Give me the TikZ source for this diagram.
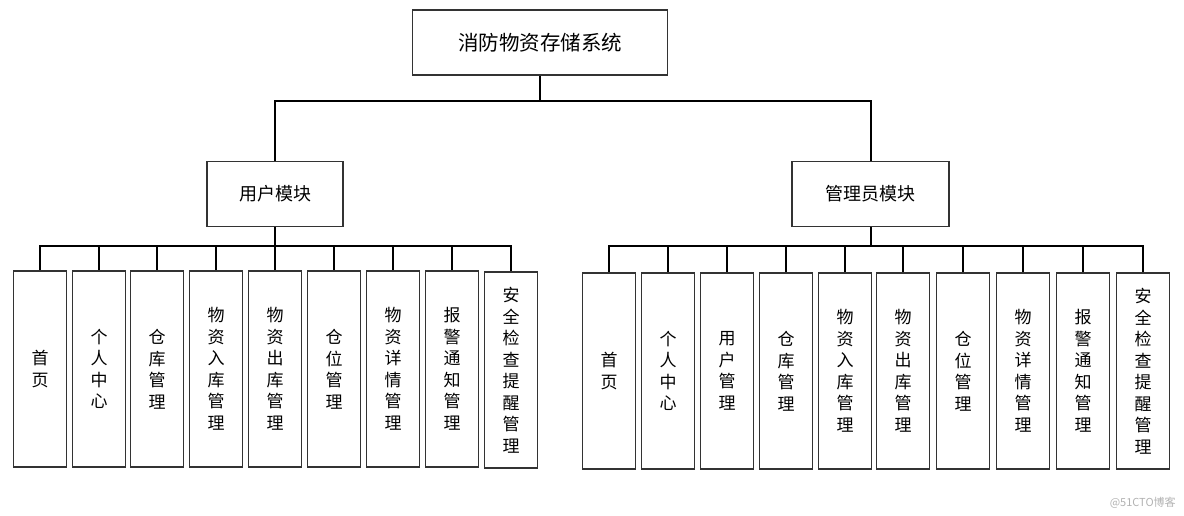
\documentclass[tikz,border=0pt]{standalone}
\usepackage{fontspec}
\usepackage{tikz}
\newfontfamily\cjk{Noto Sans CJK SC}

\begin{document}
\begin{tikzpicture}[x=1pt, y=-1pt, line width=2pt,
    box/.style = {draw=black!80, line width=1.6pt, fill=white, inner sep=0pt},
    top/.style = {box, minimum width=255pt, minimum height=65pt, font=\cjk\fontsize{20.5pt}{24pt}\selectfont},
    module/.style = {box, minimum height=65pt, font=\cjk\fontsize{18pt}{21pt}\selectfont},
    leaf/.style = {box, minimum width=53pt, minimum height=196pt, align=center, font=\cjk\fontsize{17pt}{21.5pt}\selectfont}]
      \useasboundingbox (0,0) rectangle (1184,516);
      \node[top] (sys) at (540,42.5) {消防物资存储系统};
      \node[module, minimum width=136pt] (user) at (275,194) {用户模块};
      \node[module, minimum width=157pt] (admin) at (870.5,194) {管理员模块};
      % user module
      \node[leaf] (u1) at (40,369) {首\\页};
      \node[leaf] (u2) at (99,369) {个\\人\\中\\心};
      \node[leaf] (u3) at (157,369) {仓\\库\\管\\理};
      \node[leaf] (u4) at (216,369) {物\\资\\入\\库\\管\\理};
      \node[leaf] (u5) at (275,369) {物\\资\\出\\库\\管\\理};
      \node[leaf] (u6) at (334,369) {仓\\位\\管\\理};
      \node[leaf] (u7) at (393,369) {物\\资\\详\\情\\管\\理};
      \node[leaf] (u8) at (452,369) {报\\警\\通\\知\\管\\理};
      \node[leaf] (u9) at (511,370) {安\\全\\检\\查\\提\\醒\\管\\理};
      % admin module
      \node[leaf] (a1) at (609,371) {首\\页};
      \node[leaf] (a2) at (668,371) {个\\人\\中\\心};
      \node[leaf] (a3) at (727,371) {用\\户\\管\\理};
      \node[leaf] (a4) at (786,371) {仓\\库\\管\\理};
      \node[leaf] (a5) at (845,371) {物\\资\\入\\库\\管\\理};
      \node[leaf] (a6) at (903,371) {物\\资\\出\\库\\管\\理};
      \node[leaf] (a7) at (963,371) {仓\\位\\管\\理};
      \node[leaf] (a8) at (1023,371) {物\\资\\详\\情\\管\\理};
      \node[leaf] (a9) at (1083,371) {报\\警\\通\\知\\管\\理};
      \node[leaf] (a10) at (1143,371) {安\\全\\检\\查\\提\\醒\\管\\理};
      \node[text=black!30, font=\cjk\fontsize{11pt}{13pt}\selectfont, anchor=east] (mark) at (1180,503) {@51CTO博客};
      \draw (sys.south) -- +(0,25) -| (user.north);
      \draw (sys.south) -- +(0,25) -| (admin.north);
      \draw (user.south) -- +(0,19) -| (u1.north);
      \draw (user.south) -- +(0,19) -| (u2.north);
      \draw (user.south) -- +(0,19) -| (u3.north);
      \draw (user.south) -- +(0,19) -| (u4.north);
      \draw (user.south) -- (u5.north);
      \draw (user.south) -- +(0,19) -| (u6.north);
      \draw (user.south) -- +(0,19) -| (u7.north);
      \draw (user.south) -- +(0,19) -| (u8.north);
      \draw (user.south) -- +(0,19) -| (u9.north);
      \draw (admin.south) -- +(0,19) -| (a1.north);
      \draw (admin.south) -- +(0,19) -| (a2.north);
      \draw (admin.south) -- +(0,19) -| (a3.north);
      \draw (admin.south) -- +(0,19) -| (a4.north);
      \draw (admin.south) -- +(0,19) -| (a5.north);
      \draw (admin.south) -- +(0,19) -| (a6.north);
      \draw (admin.south) -- +(0,19) -| (a7.north);
      \draw (admin.south) -- +(0,19) -| (a8.north);
      \draw (admin.south) -- +(0,19) -| (a9.north);
      \draw (admin.south) -- +(0,19) -| (a10.north);
    \end{tikzpicture}
\end{document}
